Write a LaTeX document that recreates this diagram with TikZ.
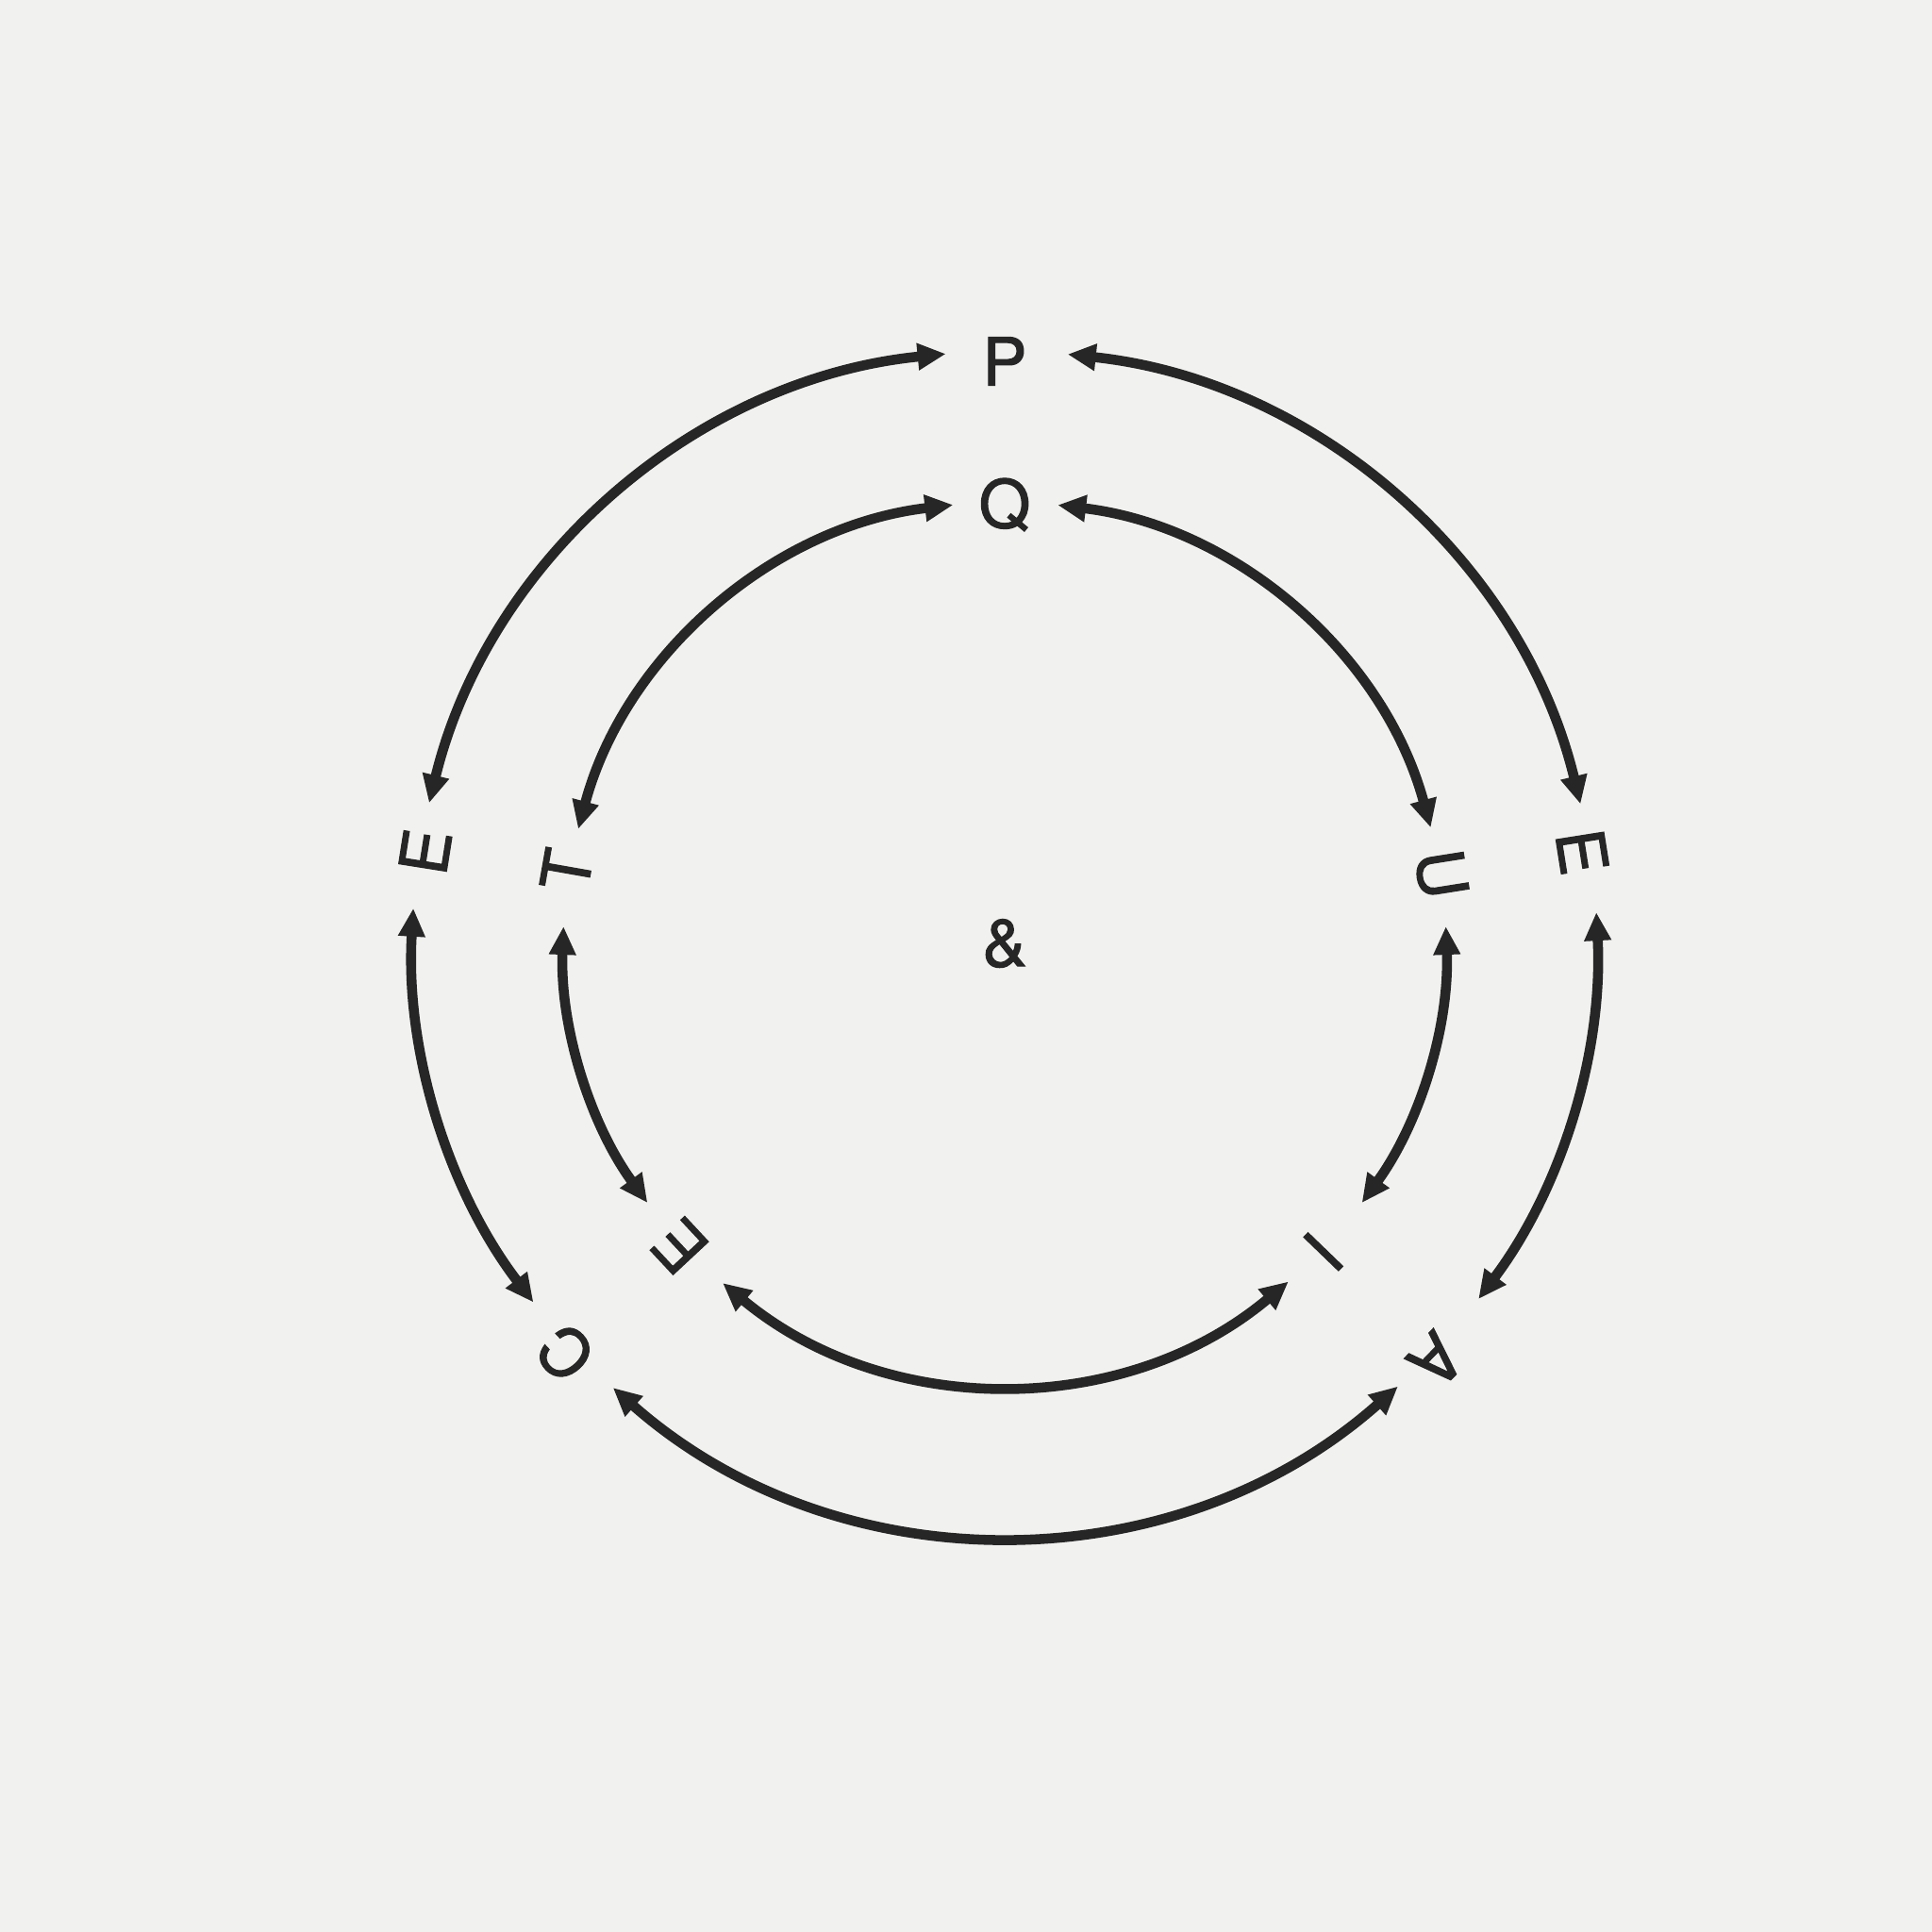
\documentclass[tikz,border=0pt]{standalone}
\usepackage{fontspec}
\setmainfont{TeX Gyre Heros}
\newfontfamily\ringfont{TeX Gyre Heros}[FakeBold=1.6]
\usetikzlibrary{arrows.meta}
\definecolor{paper}{HTML}{F1F1EF}
\definecolor{ink}{HTML}{262626}
\tikzset{
  ring/.style={ink, line width=3pt, {Triangle[length=0.3cm,width=0.27cm]}-{Triangle[length=0.3cm,width=0.27cm]}},
  letter/.style={ink, inner sep=0pt, font=\ringfont\fontsize{20}{24}\selectfont}
}
\begin{document}
\begin{tikzpicture}
    \fill[paper] (0,0) rectangle (20.48,20.48);
    \useasboundingbox (0,0) rectangle (20.48,20.48);
    \begin{scope}[shift={(10.65,10.48)}]
    % outer ring
    \node[letter] (P) at (90:6.17) {P};
    \node[letter,rotate=81] (Eo) at (171:6.22) {E};
    \node[letter,rotate=133] (C) at (223:6.37) {C};
    \node[letter,rotate=-134] (A) at (316:6.36) {A};
    \node[letter,rotate=-81] (Ei) at (9:6.20) {E};
    % inner ring
    \node[letter] (Q) at (90:4.65) {Q};
    \node[letter,rotate=80] (T) at (170.5:4.71) {T};
    \node[letter,rotate=133] (Ec) at (223:4.71) {E};
    \node[letter,rotate=-134] (I) at (316:4.70) {I};
    \node[letter,rotate=-81] (U) at (9:4.69) {U};
    \node[letter] (amp) at (0,0) {\&};
    % arc ends
    \coordinate (PEo) at (95.7:6.28);
    \coordinate (EoC) at (176.6:6.28);
    \coordinate (CA) at (228.6:6.28);
    \coordinate (AEi) at (-36.9:6.28);
    \coordinate (EiP) at (13.6:6.28);
    \coordinate (QT) at (96.7:4.68);
    \coordinate (TEc) at (177.8:4.68);
    \coordinate (EcI) at (230.3:4.68);
    \coordinate (IU) at (-36:4.68);
    \coordinate (UQ) at (15.2:4.68);
    \draw[ring] (PEo) arc[start angle=95.7, end angle=166.3, radius=6.28];
    \draw[ring] (EoC) arc[start angle=176.6, end angle=217.3, radius=6.28];
    \draw[ring] (CA) arc[start angle=228.6, end angle=311.6, radius=6.28];
    \draw[ring] (AEi) arc[start angle=-36.9, end angle=3.0, radius=6.28];
    \draw[ring] (EiP) arc[start angle=13.6, end angle=83.9, radius=6.28];
    \draw[ring] (QT) arc[start angle=96.7, end angle=165, radius=4.68];
    \draw[ring] (TEc) arc[start angle=177.8, end angle=216, radius=4.68];
    \draw[ring] (EcI) arc[start angle=230.3, end angle=310, radius=4.68];
    \draw[ring] (IU) arc[start angle=-36, end angle=2.2, radius=4.68];
    \draw[ring] (UQ) arc[start angle=15.2, end angle=83.1, radius=4.68];
    \end{scope}
\end{tikzpicture}
\end{document}
